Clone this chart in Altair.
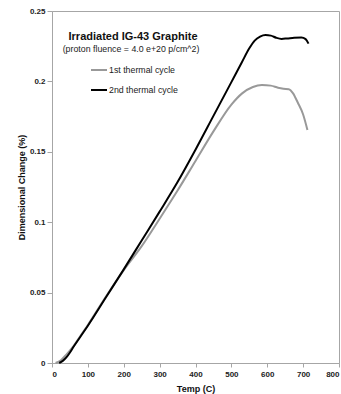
import altair as alt
import pandas as pd

# Temperature (C) and dimensional change (%) for each thermal cycle
cycle1_temp = [10, 25, 40, 60, 80, 100, 150, 200, 250, 300, 350, 400, 450, 500,
               530, 560, 585, 610, 630, 645, 660, 672, 685, 700, 712]
cycle1_change = [0.0, 0.002, 0.006, 0.012, 0.0195, 0.027, 0.047, 0.066, 0.083,
                 0.1025, 0.1225, 0.1435, 0.1645, 0.1835, 0.1915, 0.196, 0.1974,
                 0.197, 0.1955, 0.1948, 0.1945, 0.1915, 0.185, 0.1765, 0.1655]

cycle2_temp = [20, 30, 40, 50, 60, 80, 100, 150, 200, 250, 300, 350, 400, 450,
               500, 530, 550, 565, 580, 595, 610, 625, 640, 655, 675, 695, 707, 715]
cycle2_change = [0.0, 0.0015, 0.004, 0.0075, 0.0115, 0.019, 0.0265, 0.0465,
                 0.0665, 0.087, 0.1075, 0.1285, 0.1515, 0.1755, 0.1995, 0.214,
                 0.2235, 0.229, 0.2318, 0.2329, 0.2325, 0.231, 0.2302, 0.2305,
                 0.231, 0.2312, 0.23, 0.2268]

series_names = ["1st thermal cycle", "2nd thermal cycle"]
series_colors = ["#999999", "#000000"]

x_ticks = [0, 100, 200, 300, 400, 500, 600, 700, 800]
y_ticks = [0, 0.05, 0.1, 0.15, 0.2, 0.25]

df = pd.concat([
    pd.DataFrame({"temp": cycle1_temp, "change": cycle1_change,
                  "cycle": series_names[0], "order": 0}),
    pd.DataFrame({"temp": cycle2_temp, "change": cycle2_change,
                  "cycle": series_names[1], "order": 1}),
], ignore_index=True)

FONT = "Liberation Sans"

lines = alt.Chart(df).mark_line(strokeWidth=2, interpolate="monotone").encode(
    x=alt.X("temp:Q",
            scale=alt.Scale(domain=[0, 800], nice=False),
            axis=alt.Axis(values=x_ticks, title="Temp (C)", format="d",
                          titleY=25, titleBaseline="middle")),
    y=alt.Y("change:Q",
            scale=alt.Scale(domain=[0, 0.25], nice=False),
            axis=alt.Axis(values=y_ticks, title="Dimensional Change (%)",
                          format="~g", tickSize=5, labelPadding=2,
                          titleX=-31, titleY=176, titleAngle=-90,
                          titleAlign="center", titleBaseline="middle")),
    color=alt.Color("cycle:N",
                    scale=alt.Scale(domain=series_names, range=series_colors),
                    legend=alt.Legend(title=None, orient="none",
                                      legendX=38, legendY=50,
                                      symbolType="stroke", symbolSize=256,
                                      symbolStrokeWidth=2, labelOffset=1,
                                      rowPadding=6, labelFont=FONT,
                                      labelFontSize=8.8, labelColor="#222222",
                                      padding=0)),
    detail="cycle:N",
    order=alt.Order("order:Q"),
)

title_text = alt.Chart(pd.DataFrame({"t": ["Irradiated IG-43 Graphite"]})).mark_text(
    font=FONT, fontSize=11, fontWeight="bold", align="center", baseline="alphabetic",
    color="#111111",
).encode(text="t:N", x=alt.value(81), y=alt.value(29))

subtitle_text = alt.Chart(pd.DataFrame({"t": ["(proton fluence = 4.0 e+20 p/cm^2)"]})).mark_text(
    font=FONT, fontSize=8.8, align="center", baseline="alphabetic", color="#222222",
).encode(text="t:N", x=alt.value(79), y=alt.value(41))

chart = alt.layer(lines, title_text, subtitle_text).properties(
    width=287, height=352,
    autosize=alt.AutoSizeParams(type="none"),
    padding={"left": 52, "top": 11, "right": 2, "bottom": 31},
    background="white",
).configure_view(
    stroke="#a6a6a6", strokeWidth=1,
).configure_axis(
    grid=False,
    domainColor="#a6a6a6",
    tickColor="#a6a6a6",
    labelFont=FONT, labelFontSize=8, labelFontWeight="bold", labelColor="#222222",
    titleFont=FONT, titleFontSize=9, titleFontWeight="bold", titleColor="#111111",
).configure_axisX(
    tickSize=4, labelPadding=3,
)

chart.save("out.html", embed_options={"renderer": "svg", "actions": False})
